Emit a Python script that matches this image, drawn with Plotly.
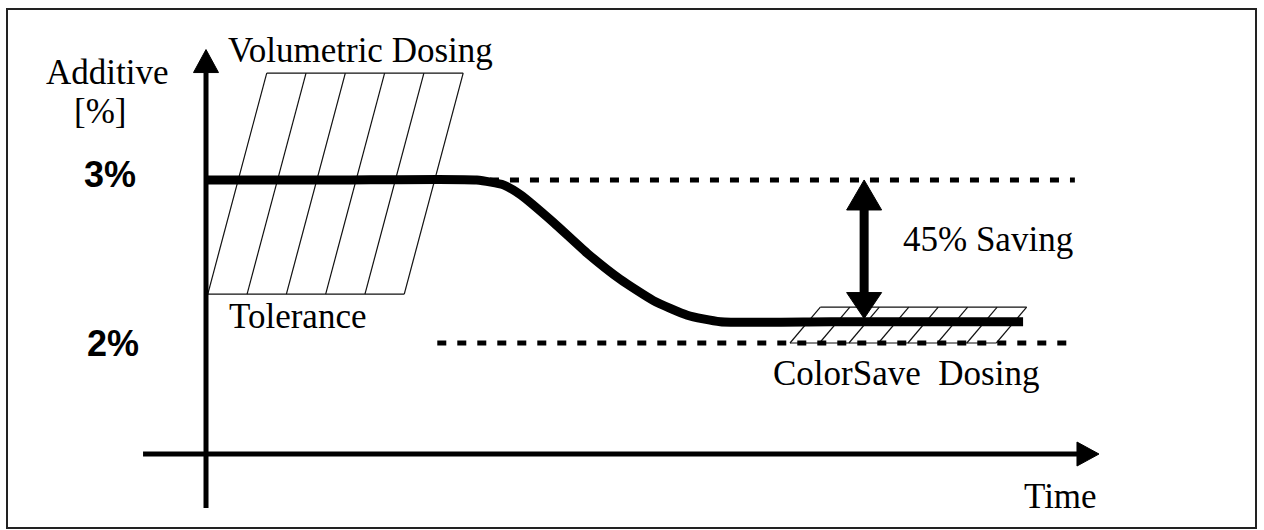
import plotly.graph_objects as go

# ---- coordinate system: time (arbitrary units 0..100), additive (%) ----
X_RANGE = [-23.07, 118.48]
Y_RANGE = [0.853, 4.104]

# main dosing curve (time, additive %)
curve_t = [0.0, 15.0, 30.3, 33.3, 35.2, 38.9, 42.7, 46.4, 50.1, 53.9, 57.6, 70.0, 91.5]
curve_v = [3.0, 3.0, 3.0, 2.97, 2.91, 2.74, 2.55, 2.39, 2.26, 2.17, 2.13, 2.13, 2.13]

# reference levels (dashed)
level_hi = 3.0
level_lo = 2.0
hi_t = [31.8, 97.3]
lo_t = [25.9, 97.3]

# volumetric tolerance band (hatched parallelogram)
vol_top_v = 3.656
vol_bot_v = 2.30
vol_top_t = [6.8, 11.2, 15.6, 20.0, 24.4, 28.8]
vol_bot_t = [0.2, 4.6, 9.0, 13.4, 17.8, 22.2]

# ColorSave tolerance band
cs_top_v = 2.22
cs_bot_v = 2.0
cs_top_t = [68.8, 72.1, 75.4, 78.7, 82.0, 85.3, 88.6, 91.9]
cs_bot_t = [65.4, 68.7, 72.0, 75.3, 78.6, 81.9, 85.2, 88.5]

# saving arrow
saving_t = 73.7
saving_top = 3.0
saving_bot = 2.15

# axes arrows
yaxis_t = 0.0
yaxis_v = [0.988, 3.80]
xaxis_v = 1.319
xaxis_t = [-7.05, 100.0]

# labels: (text, t, v, font family, size, bold)
SERIF = "Liberation Serif, Times New Roman, serif"
SANS = "Liberation Sans, Arial, sans-serif"
labels = [
    ("Volumetric Dosing", 2.2, 3.795, SERIF, 35, False),
    ("Additive", -18.1, 3.660, SERIF, 35, False),
    ("[%]", -15.0, 3.418, SERIF, 35, False),
    ("3%", -13.9, 3.031, SANS, 36, True),
    ("2%", -13.6, 1.995, SANS, 36, True),
    ("Tolerance", 2.4, 2.160, SERIF, 35, False),
    ("45% Saving", 77.8, 2.632, SERIF, 35, False),
    ("ColorSave\u00a0\u00a0Dosing", 63.3, 1.810, SERIF, 35, False),
    ("Time", 91.4, 1.060, SERIF, 35, False),
]

fig = go.Figure()

# hatch lines
hx, hy = [], []
for a, b in zip(vol_top_t, vol_bot_t):
    hx += [a, b, None]
    hy += [vol_top_v, vol_bot_v, None]
hx += [vol_top_t[0], vol_top_t[-1], None, vol_bot_t[0], vol_bot_t[-1], None]
hy += [vol_top_v, vol_top_v, None, vol_bot_v, vol_bot_v, None]
for a, b in zip(cs_top_t, cs_bot_t):
    hx += [a, b, None]
    hy += [cs_top_v, cs_bot_v, None]
hx += [cs_top_t[0], cs_top_t[-1], None, cs_bot_t[0], cs_bot_t[-1], None]
hy += [cs_top_v, cs_top_v, None, cs_bot_v, cs_bot_v, None]
fig.add_trace(go.Scatter(x=hx, y=hy, mode="lines",
                         line=dict(color="#111", width=1.2), hoverinfo="skip"))

# dashed levels
fig.add_trace(go.Scatter(x=hi_t, y=[level_hi, level_hi], mode="lines",
                         line=dict(color="black", width=5, dash="9px,11px"), hoverinfo="skip"))
fig.add_trace(go.Scatter(x=lo_t, y=[level_lo, level_lo], mode="lines",
                         line=dict(color="black", width=5, dash="9px,11px"), hoverinfo="skip"))

# main curve
fig.add_trace(go.Scatter(x=curve_t, y=curve_v, mode="lines",
                         line=dict(color="black", width=9, shape="spline", smoothing=0.5),
                         hoverinfo="skip"))

# axes lines
fig.add_trace(go.Scatter(x=[yaxis_t, yaxis_t], y=[yaxis_v[0], yaxis_v[1] - 0.14], mode="lines",
                         line=dict(color="black", width=5), hoverinfo="skip"))
fig.add_trace(go.Scatter(x=[xaxis_t[0], xaxis_t[1] - 2.4], y=[xaxis_v, xaxis_v], mode="lines",
                         line=dict(color="black", width=5), hoverinfo="skip"))
# saving arrow shaft
fig.add_trace(go.Scatter(x=[saving_t, saving_t], y=[saving_top - 0.15, saving_bot + 0.12],
                         mode="lines", line=dict(color="black", width=9), hoverinfo="skip"))

shapes = []
def head(t, v, path):
    shapes.append(dict(type="path", xref="x", yref="y", xsizemode="pixel", ysizemode="pixel",
                       xanchor=t, yanchor=v, path=path, fillcolor="black",
                       line=dict(color="black", width=1)))

# arrow heads (pixel geometry anchored at the tip)
head(yaxis_t, yaxis_v[1], "M0,0 L-12.5,-23 L12.5,-23 Z")
head(xaxis_t[1], xaxis_v, "M0,0 L-22,12 L-22,-12 Z")
head(saving_t, saving_top, "M0,0 L-17.5,-30 L17.5,-30 Z")
head(saving_t, saving_bot, "M0,0 L-17.5,26 L17.5,26 Z")

# frame
shapes.append(dict(type="rect", xref="paper", yref="paper",
                   x0=7 / 1264, x1=1256 / 1264, y0=1 - 528 / 530, y1=1 - 9 / 530,
                   line=dict(color="#222", width=2)))

annotations = []
for text, t, v, fam, size, bold in labels:
    annotations.append(dict(x=t, y=v, xref="x", yref="y", text=f"<b>{text}</b>" if bold else text,
                            showarrow=False, xanchor="left", yanchor="middle",
                            font=dict(family=fam, size=size, color="black")))

fig.update_layout(
    width=1264, height=530,
    margin=dict(l=0, r=0, t=0, b=0),
    paper_bgcolor="white", plot_bgcolor="white",
    showlegend=False,
    xaxis=dict(range=X_RANGE, visible=False, fixedrange=True),
    yaxis=dict(range=Y_RANGE, visible=False, fixedrange=True),
    shapes=shapes, annotations=annotations,
)

fig.write_html("out.html", config={"displayModeBar": False},
               post_script="document.body.style.margin='0';")
